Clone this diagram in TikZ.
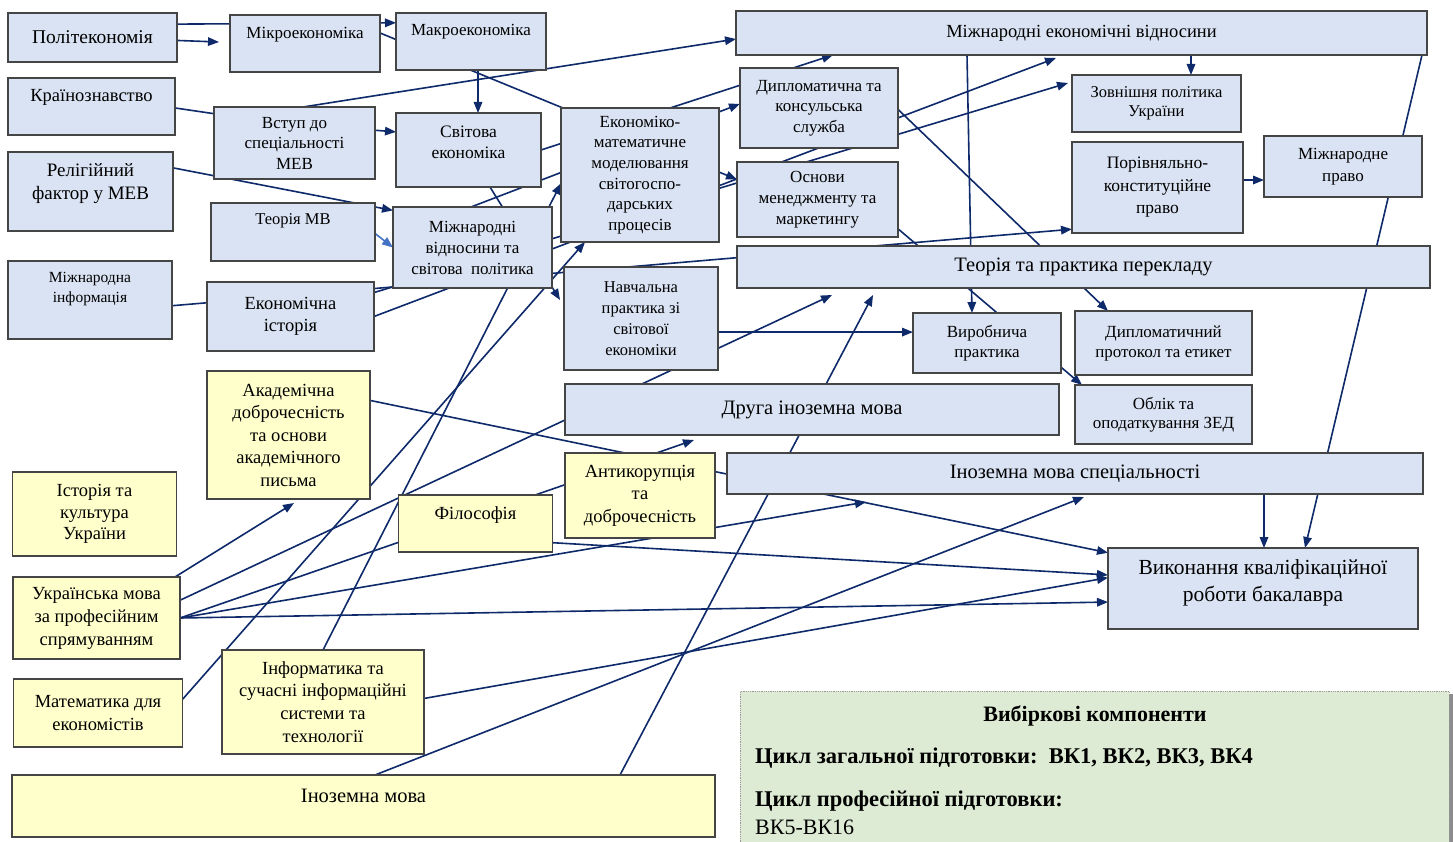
\documentclass[tikz,border=0pt]{standalone}
\usepackage{fontspec}
\usepackage{xcolor}
\usepackage{tikz}
\usetikzlibrary{arrows.meta}
\setmainfont{Liberation Serif}
\pgfdeclarelayer{back}
\pgfsetlayers{back,main}
\definecolor{boxblue}{HTML}{DAE3F3}
\definecolor{boxyel}{HTML}{FFFFCC}
\definecolor{boxline}{HTML}{454545}
\definecolor{linkc}{HTML}{0E2A6B}
\definecolor{lightc}{HTML}{4472C4}
\definecolor{legfill}{HTML}{DEEBD4}
\newcommand{\fsz}[2]{\fontsize{#1pt}{#2pt}\selectfont}

\begin{document}
\begin{tikzpicture}[x=1pt,y=1pt,yscale=-1,xscale=1,
  bbox/.style={draw=boxline, line width=1.2pt, fill=boxblue, inner sep=2pt, outer sep=0pt, align=center},
  ybox/.style={bbox, fill=boxyel},
  link/.style={draw=linkc, line width=1.6pt, -{Triangle[length=11pt,width=8.5pt]}},
  plain/.style={draw=linkc, line width=1.6pt},
  lightlink/.style={link, draw=lightc, fill=lightc}]

\useasboundingbox (0,0) rectangle (1453,842);

\node[bbox, minimum width=169pt, minimum height=49pt, font=\fsz{19.5}{24}] (polit) at (92.5,37.5) {Політекономія};

\node[bbox, minimum width=150pt, minimum height=57pt, font=\fsz{17}{19}] (mikro) at (305,43.5) {Мікроекономіка\\[3pt]\mbox{}};

\node[bbox, minimum width=150pt, minimum height=57pt, font=\fsz{17}{19}] (makro) at (471,41.5) {Макроекономіка\\[5pt]\mbox{}};

\node[bbox, minimum width=167pt, minimum height=57pt, font=\fsz{18.5}{21}] (krain) at (91.5,106.5) {Країнознавство\\[1pt]\mbox{}};

\node[bbox, minimum width=161pt, minimum height=72pt, font=\fsz{17}{20.5}] (vstup) at (294.5,143) {Вступ до\\спеціальності\\МЕВ};

\node[bbox, minimum width=145pt, minimum height=74pt, font=\fsz{17.5}{21}] (svit) at (468.5,150) {Світова\\економіка\\[-6pt]\mbox{}};

\node[bbox, minimum width=165pt, minimum height=79pt, font=\fsz{19}{23}] (relig) at (90.5,191.5) {Релігійний\\фактор у МЕВ\\[-3pt]\mbox{}};

\node[bbox, minimum width=164pt, minimum height=58pt, font=\fsz{16.5}{21}] (teorMV) at (293,232) {Теорія МВ\\[5pt]\mbox{}};

\node[bbox, minimum width=159pt, minimum height=81pt, font=\fsz{17}{21}] (mvsp) at (472.5,247.5) {Міжнародні\\відносини та\\світова\ \ політика};

\node[bbox, minimum width=158pt, minimum height=134pt, font=\fsz{17}{20.7}] (emm) at (640,175) {Економіко-\\математичне\\моделювання\\світогоспо-\\дарських\\процесів};

\node[bbox, minimum width=158pt, minimum height=80pt, font=\fsz{17}{20.5}] (dipl) at (819,108) {Дипломатична та\\консульська\\служба};

\node[bbox, minimum width=161pt, minimum height=75pt, font=\fsz{17}{21}] (osn) at (817.5,199.5) {Основи\\менеджменту та\\маркетингу};

\node[bbox, minimum width=691pt, minimum height=44pt, font=\fsz{18.5}{22}] (mev) at (1081.5,33) {Міжнародні економічні відносини};

\node[bbox, minimum width=169pt, minimum height=57pt, font=\fsz{16.5}{19}] (zovn) at (1156.5,103.5) {Зовнішня політика\\України};

\node[bbox, minimum width=171pt, minimum height=91pt, font=\fsz{17.5}{22.5}] (porivn) at (1157.5,187.5) {Порівняльно-\\конституційне\\право};

\node[bbox, minimum width=158pt, minimum height=61pt, font=\fsz{17}{22.5}] (mprav) at (1343,166.5) {Міжнародне\\право};

\node[bbox, minimum width=693pt, minimum height=42pt, font=\fsz{20.5}{24}] (teorp) at (1083.5,267) {Теорія та практика перекладу};

\node[bbox, minimum width=164pt, minimum height=78pt, font=\fsz{15.5}{20}] (minf) at (90,300) {Міжнародна\\інформація\\[6pt]\mbox{}};

\node[bbox, minimum width=167pt, minimum height=69pt, font=\fsz{18.5}{22}] (ekist) at (290.5,316.5) {Економічна\\історія};

\node[bbox, minimum width=154pt, minimum height=103pt, font=\fsz{16.5}{21}] (navch) at (641,318.5) {Навчальна\\практика зі\\світової\\економіки};

\node[bbox, minimum width=148pt, minimum height=60pt, font=\fsz{17}{20}] (virob) at (987,343) {Виробнича\\практика};

\node[bbox, minimum width=177pt, minimum height=64pt, font=\fsz{17}{20}] (dprot) at (1163.5,343) {Дипломатичний\\протокол та етикет};

\node[bbox, minimum width=177pt, minimum height=59pt, font=\fsz{17}{19.5}] (oblik) at (1163.5,414.5) {Облік та\\оподаткування ЗЕД};

\node[bbox, minimum width=494pt, minimum height=51pt, font=\fsz{20.5}{24}] (druga) at (812,409.5) {Друга іноземна мова};

\node[bbox, minimum width=696pt, minimum height=41pt, font=\fsz{20.5}{24}] (ims) at (1075,473.5) {Іноземна мова спеціальності};

\node[bbox, minimum width=310pt, minimum height=81pt, font=\fsz{21.5}{27}] (vykon) at (1263,588.5) {Виконання кваліфікаційної\\роботи бакалавра\\[-12pt]\mbox{}};

\node[ybox, minimum width=163pt, minimum height=128pt, font=\fsz{18.5}{22.5}] (akad) at (288.5,435) {Академічна\\доброчесність\\та основи\\академічного\\письма};

\node[ybox, minimum width=164pt, minimum height=84pt, font=\fsz{18.5}{21.7}] (istor) at (94.5,514) {Історія та\\культура\\України};

\node[ybox, minimum width=154pt, minimum height=57pt, font=\fsz{18.5}{22}] (filos) at (475.5,523.5) {Філософія\\[-2pt]\mbox{}};

\node[ybox, minimum width=150pt, minimum height=85pt, font=\fsz{18.5}{22.5}] (antik) at (640,495.5) {Антикорупція\\та\\доброчесність};

\node[ybox, minimum width=167pt, minimum height=82pt, font=\fsz{18.5}{23}] (ukr) at (96.5,618) {Українська мова\\за професійним\\спрямуванням};

\node[ybox, minimum width=168.5pt, minimum height=68pt, font=\fsz{18.5}{23}] (matem) at (98,713) {Математика для\\економістів};

\node[ybox, minimum width=202pt, minimum height=104pt, font=\fsz{18.5}{22.8}] (inform) at (323,702) {Інформатика та\\сучасні інформаційні\\системи та\\технології};

\node[ybox, minimum width=703pt, minimum height=62pt, font=\fsz{20.5}{21}] (inozem) at (363.5,806) {Іноземна мова\\[-1pt]\mbox{}};

\fill[black!45] (1449,694) rectangle (1453,842);
\node[draw=gray!80, densely dotted, line width=0.8pt, fill=legfill, minimum width=709pt, minimum height=160pt, inner sep=0pt, anchor=north west] (leg) at (740,691) {};
\node[font=\bfseries\fsz{22}{24}, inner sep=0pt, anchor=base] (legT) at (1095,721) {Вибіркові компоненти};
\node[font=\bfseries\fsz{22.5}{24}, inner sep=0pt, anchor=base west] (legA) at (755,763) {Цикл загальної підготовки:\ \ ВК1, ВК2, ВК3, ВК4};
\node[font=\bfseries\fsz{22.5}{24}, inner sep=0pt, anchor=base west] (legB) at (755,806) {Цикл професійної підготовки:};
\node[font=\fsz{22}{24}, inner sep=0pt, anchor=base west] (legC) at (755,834) {ВК5-ВК16};

\coordinate (tPol) at (219,42);
\coordinate (tNav) at (560,300);
\coordinate (tMev) at (1056,58);
\coordinate (tZovn) at (1068,83);
\coordinate (tAkad) at (294,503);
\coordinate (tPer1) at (832,295);
\coordinate (tDruga) at (694,440);
\coordinate (tIms1) at (866,502);
\coordinate (tIms2) at (1084,497);
\coordinate (tPer2) at (873,295);
\coordinate (mk) at ([xshift=7pt]makro.south);
\coordinate (mz) at ([xshift=109.5pt]mev.south);
\coordinate (iv) at ([xshift=189pt]ims.south);

\begin{pgfonlayer}{back}
\fill[white] (0,0) rectangle (1453,842);
\draw[link] (polit.9) -- (makro.166);
\draw[link] (polit.358) -- (tPol);
\draw[link] (mikro.8) -- (osn.166);
\draw[link] (mk) -- (mk |- svit.north);
\draw[plain] (krain.359) -- (vstup.160);
\draw[link] (vstup.9) -- (svit.166);
\draw[link] ([xshift=8.5pt]vstup.north) -- (mev.181);
\draw[link] (relig.16) -- (mvsp.155);
\draw[lightlink] (teorMV.359) -- (mvsp.180);
\draw[link] ([xshift=21.5pt]svit.south) -- (tNav);
\draw[link] (svit.east) -- ([xshift=-248.5pt]mev.south);
\draw[link] ([xshift=-1.5pt]mvsp.north) -- (dipl.177);
\draw[link] (ekist.east) -- (tMev);
\draw[link] (ekist.16) -- (tZovn);
\draw[link] (minf.356) -- (porivn.206);
\draw[link] ([xshift=78.5pt]ukr.north) -- (tAkad);
\draw[link] (ukr.12) -- (tPer1);
\draw[link] (ukr.east) -- (tDruga);
\draw[link] (ukr.east) -- (tIms1);
\draw[link] (ukr.east) -- (vykon.185);
\draw[link] (akad.23) -- (vykon.167);
\draw[link] (filos.346) -- (vykon.175);
\draw[link] (inform.2) -- (vykon.176);
\draw[link] ([xshift=11.5pt]inozem.north) -- (tIms2);
\draw[link] ([xshift=256.5pt]inozem.north) -- (tPer2);
\draw[link] (matem.9) -- ([xshift=-55pt]emm.south);
\draw[link] (inform.north) -- (emm.186);
\draw[link] (navch.350) -- (navch.350 -| virob.west);
\draw[link] ([xshift=-114.5pt]mev.south) -- ([xshift=-15pt]virob.north);
\draw[link] (dipl.359) -- ([xshift=-55.5pt]dprot.north);
\draw[link] (osn.340) -- ([xshift=-81.5pt]oblik.north);
\draw[link] ([xshift=340.5pt]mev.south) -- ([xshift=42pt]vykon.north);
\draw[link] (mz) -- (mz |- zovn.north);
\draw[link] (iv) -- (iv |- vykon.north);
\draw[link] (porivn.5) -- (porivn.5 -| mprav.west);
\end{pgfonlayer}

\end{tikzpicture}
\end{document}
